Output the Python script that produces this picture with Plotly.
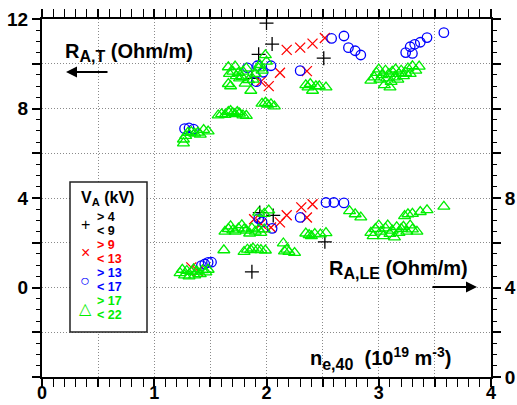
import plotly.graph_objects as go

# ---------------- data ----------------
# V_A 4-9 kV (black +)
ne_b_T = [1.87, 1.93, 2.00, 2.05, 2.51]
RT_b = [9.35, 10.42, 11.82, 10.88, 10.25]
ne_b_LE = [1.87, 1.94, 2.06, 2.52]
RLE_b = [4.70, 7.35, 7.22, 6.04]

# V_A 9-13 kV (red x)
ne_r_T = [1.95, 2.02, 2.12, 2.18, 2.30, 2.36, 2.41, 2.52]
RT_r = [9.20, 9.00, 9.60, 10.62, 10.72, 9.67, 10.90, 11.15]
ne_r_LE = [1.33, 1.39, 1.89, 1.95, 2.04, 2.12, 2.18, 2.31, 2.36, 2.41]
RLE_r = [4.90, 4.72, 7.05, 6.85, 6.68, 6.91, 7.23, 7.58, 7.13, 7.72]

# V_A 13-17 kV (blue o)
ne_o_T = [1.27, 1.31, 1.35, 1.83, 1.91, 1.92, 1.97, 2.04, 2.30, 2.58, 2.69,
          2.73, 2.79, 2.84, 3.24, 3.28, 3.30, 3.32, 3.37, 3.43, 3.58]
RT_o = [7.10, 7.13, 7.08, 9.82, 9.20, 9.91, 9.62, 9.91, 9.69, 11.13, 11.24,
        10.72, 10.58, 10.39, 10.50, 10.76, 10.46, 10.87, 10.96, 11.17, 11.39]
ne_o_LE = [1.42, 1.45, 1.48, 1.51, 1.93, 1.96, 2.05, 2.30, 2.53, 2.60, 2.69]
RLE_o = [4.98, 5.05, 5.12, 5.13, 7.08, 6.93, 6.64, 7.13, 7.80, 7.80, 7.78]

# V_A 17-22 kV (green triangles)
ne_g_T = [1.26, 1.26, 1.28, 1.30, 1.33, 1.36, 1.39, 1.41, 1.44, 1.48,
          1.57, 1.60, 1.63, 1.66, 1.68, 1.70, 1.72, 1.74, 1.76, 1.79, 1.82,
          1.96, 1.99, 2.01, 2.04, 2.07,
          1.66, 1.67, 1.66, 1.68, 1.70, 1.72, 1.73, 1.75, 1.76, 1.78, 1.79,
          1.81, 1.82, 1.84, 1.86, 1.88, 1.90, 1.93, 1.94, 1.96, 1.99, 2.00,
          2.35, 2.37, 2.39, 2.41, 2.44, 2.47, 2.53,
          2.93, 2.96, 2.98, 3.00, 3.01, 3.03, 3.05, 3.06, 3.07, 3.09, 3.10,
          3.11, 3.12, 3.14, 3.15, 3.17, 3.18, 3.20, 3.22, 3.24, 3.26, 3.28,
          3.30, 3.33, 3.36]
RT_g = [6.45, 6.62, 6.78, 6.92, 6.96, 6.88, 6.93, 6.84, 7.05, 6.98,
        7.70, 7.75, 7.72, 7.85, 7.90, 7.80, 7.75, 7.85, 7.78, 7.70, 7.68,
        8.22, 8.26, 8.18, 8.20, 8.10,
        9.85, 9.55, 9.10, 9.00, 9.65, 9.88, 9.45, 9.60, 9.35, 9.42, 9.65,
        9.12, 9.80, 9.27, 8.80, 9.30, 9.55, 9.80, 9.95, 9.70, 10.39, 10.10,
        9.05, 8.95, 9.10, 8.80, 9.00, 9.00, 8.95,
        9.25, 9.40, 9.60, 9.75, 9.30, 9.50, 9.05, 9.70, 9.35, 9.55, 8.95,
        9.20, 9.65, 9.40, 9.75, 9.30, 9.55, 9.70, 9.45, 9.60, 9.80, 9.55,
        9.90, 9.70, 9.88]
ne_g_LE = [1.23, 1.25, 1.27, 1.29, 1.31, 1.33, 1.35, 1.36, 1.38, 1.41, 1.43,
           1.46, 1.48,
           1.62,
           1.80, 1.83, 1.86, 1.88, 1.92, 1.95, 1.99, 2.15, 2.16, 2.18, 2.20,
           2.25,
           1.63, 1.66, 1.68, 1.70, 1.72, 1.75, 1.78, 1.80, 1.82, 1.85, 1.87,
           1.90, 1.93, 1.95, 1.98, 1.93, 1.98, 2.02,
           2.35, 2.38, 2.40, 2.43, 2.48, 2.53,
           2.74, 2.79, 2.84,
           2.93, 2.95, 2.97, 3.00, 3.02, 3.04, 3.06, 3.08, 3.10, 3.12, 3.14,
           3.16, 3.18, 3.20, 3.22, 3.25, 3.28, 3.30, 3.34, 3.23, 3.26, 3.30,
           3.37, 3.43, 3.58]
RLE_g = [4.65, 4.80, 4.55, 4.75, 4.50, 4.70, 4.82, 4.55, 4.72, 4.60, 4.78,
         4.68, 4.80,
         5.67,
         5.60, 5.70, 5.68, 5.75, 5.70, 5.68, 5.66, 5.98, 5.62, 5.70, 5.60,
         5.55,
         6.50, 6.62, 6.74, 6.56, 6.50, 6.65, 6.79, 6.60, 6.55, 6.42, 6.65,
         6.50, 6.60, 6.45, 6.60, 7.35, 7.30, 7.45,
         6.42, 6.35, 6.30, 6.40, 6.38, 6.44,
         7.42, 7.28, 7.14,
         6.45, 6.30, 6.62, 6.78, 6.50, 6.30, 6.65, 6.78, 6.40, 6.55, 6.25,
         6.70, 6.45, 6.62, 6.72, 6.50, 6.78, 6.60, 6.50, 7.20, 7.28, 7.30,
         7.38, 7.46, 7.62]

x_ticks = [0, 0.5, 1, 1.5, 2, 2.5, 3, 3.5, 4]
x_labels = ["0", "", "1", "", "2", "", "3", "", "4"]
yl_ticks = [-4, -2, 0, 2, 4, 6, 8, 10, 12]
yl_labels = ["", "", "0", "", "4", "", "8", "", "12"]
yr_ticks = [0, 2, 4, 6, 8, 10, 12, 14, 16]
yr_labels = ["0", "", "4", "", "8", "", "", "", ""]

BLACK, RED, BLUE, GREEN = "#000000", "#ff0000", "#0000ff", "#00ee00"
FONT = "Liberation Sans, Arial, Helvetica, sans-serif"

series = [
    (ne_b_T, RT_b, ne_b_LE, RLE_b, "cross-thin-open", BLACK, 10),
    (ne_r_T, RT_r, ne_r_LE, RLE_r, "x-thin-open", RED, 10),
    (ne_o_T, RT_o, ne_o_LE, RLE_o, "circle-open", BLUE, 9.5),
    (ne_g_T, RT_g, ne_g_LE, RLE_g, "triangle-up-open", GREEN, 10.5),
]

fig = go.Figure()
for xT, yT, xL, yL, sym, col, sz in series:
    mk = dict(symbol=sym, size=sz, color=col, line=dict(color=col, width=1.3))
    fig.add_trace(go.Scatter(x=xT, y=yT, mode="markers", marker=mk,
                             yaxis="y", showlegend=False))
    fig.add_trace(go.Scatter(x=xL, y=yL, mode="markers", marker=mk,
                             yaxis="y2", showlegend=False))

L, R, T, B = 42, 491, 19, 377


def P(px, py):
    return (px - L) / (R - L), (B - py) / (B - T)


tickfont = dict(family=FONT, size=19, color="black", weight="bold")
common = dict(ticks="outside", ticklen=8, tickwidth=1.5, tickcolor="black",
              showline=True, linewidth=2, linecolor="black", zeroline=False,
              automargin=False)
minor_x = dict(dtick=0.1, ticks="outside", ticklen=4, tickwidth=1,
               tickcolor="black", showgrid=False)
minor_y = dict(dtick=0.5, ticks="outside", ticklen=4, tickwidth=1,
               tickcolor="black", showgrid=False)
grid = dict(showgrid=True, gridcolor="#8a8a8a", griddash="1px,2px",
            gridwidth=1)

annotations = []


def txt(px, py, text, size=18, color="black", xanchor="left", bold=True):
    x, y = P(px, py)
    annotations.append(dict(x=x, y=y, xref="paper", yref="paper", text=text,
                            showarrow=False, xanchor=xanchor, yanchor="middle",
                            borderpad=0,
                            font=dict(family=FONT, size=size, color=color,
                                      weight="bold" if bold else "normal")))


def arrow(hx, hy, tx, ty):
    x, y = P(hx, hy)
    annotations.append(dict(x=x, y=y, xref="paper", yref="paper", text="",
                            showarrow=True, ax=tx - hx, ay=ty - hy,
                            arrowhead=2, arrowsize=1.1, arrowwidth=2,
                            arrowcolor="black", standoff=0, startstandoff=0))


def sub(s):
    return "<sub><span style='font-size:16px'>%s</span></sub>" % s


def sup(s):
    return "<sup><span style='font-size:14px'>%s</span></sup>" % s


txt(64, 52, "R" + sub("A,T") + " (Ohm/m)", size=20)
arrow(66, 72, 109, 72)
txt(328, 269, "R" + sub("A,LE") + " (Ohm/m)", size=20)
arrow(477, 287, 431, 287)
txt(309, 358, "n" + sub("e,40") + "&nbsp;&nbsp;(10" + sup("19") + " m"
    + sup("-3") + ")", size=20)

# legend (manual)
txt(107, 198, "V<sub>A</sub> (kV)", size=16, xanchor="center")
leg = [("+", BLACK, "&gt; 4", "&lt; 9", 224),
       ("×", RED, "&gt; 9", "&lt; 13", 252),
       ("○", BLUE, "&gt; 13", "&lt; 17", 280),
       ("△", GREEN, "&gt; 17", "&lt; 22", 308)]
for g, c, t1, t2, yc in leg:
    txt(85, yc, g, size=16, color=c, xanchor="center", bold=False)
    txt(96, yc - 7, t1, size=12.5, color=c)
    txt(96, yc + 7, t2, size=12.5, color=c)

x0, y0 = P(70, 332)
x1, y1 = P(147, 182)

fig.update_layout(
    width=517, height=405,
    margin=dict(l=L, r=517 - R, t=T, b=405 - B, pad=0, autoexpand=False),
    paper_bgcolor="white", plot_bgcolor="white",
    xaxis=dict(range=[0, 4], tickmode="array", tickvals=x_ticks,
               ticktext=x_labels, mirror="allticks", minor=minor_x,
               ticklabelstandoff=-10,
               tickfont=dict(family=FONT, size=18, color="black",
                             weight="bold"),
               **grid, **common),
    yaxis=dict(range=[-4, 12], tickmode="array", tickvals=yl_ticks,
               ticktext=yl_labels, mirror=False, minor=minor_y,
               tickfont=tickfont, **grid, **common),
    yaxis2=dict(range=[0, 16], overlaying="y", side="right", tickmode="array",
                tickvals=yr_ticks, ticktext=yr_labels, showgrid=False,
                minor=minor_y, tickfont=tickfont, **common),
    shapes=[dict(type="rect", xref="paper", yref="paper", x0=x0, y0=y0,
                 x1=x1, y1=y1, line=dict(color="#222", width=1.5),
                 fillcolor="white", layer="above")],
    annotations=annotations,
    showlegend=False,
)

fig.write_html("out.html")
